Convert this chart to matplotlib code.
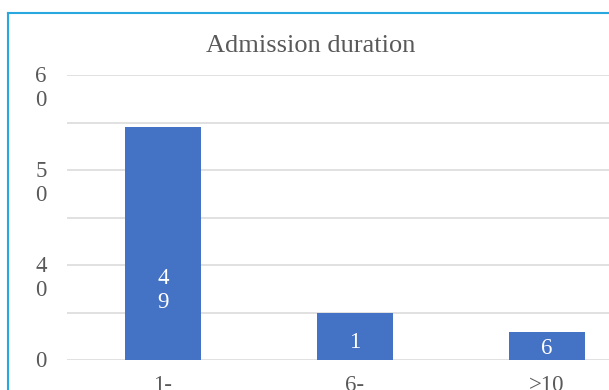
import matplotlib.pyplot as plt
from matplotlib.lines import Line2D
import matplotlib.transforms as mtransforms

categories = ["1-", "6-", ">10"]
values = [49, 10, 6]
bar_labels = ["4\n9", "1", "6"]
ytick_values = [0, 20, 40, 60]
ytick_labels = ["0", "4\n0", "5\n0", "6\n0"]

plt.rcParams['font.family'] = ['Liberation Serif', 'DejaVu Serif']

W, H = 609, 390
fig = plt.figure(figsize=(W / 100, H / 100), dpi=100)
fig.patch.set_facecolor('white')

# axes area runs off the right edge like the cropped original
left, right, bottom, top = 67, 643, 360, 75
ax = fig.add_axes([left / W, (H - bottom) / H, (right - left) / W, (bottom - top) / H])
ax.set_xlim(-0.5, 2.5)
ax.set_ylim(0, 60)

x = list(range(len(categories)))
ax.bar(x, values, width=0.4, color='#4472c4', zorder=3)

for v in range(0, 61, 10):
    ax.axhline(v, color='#d9d9d9', linewidth=1.1, zorder=1)

for s in ax.spines.values():
    s.set_visible(False)
ax.set_yticks([])
ax.set_xticks(x)
ax.set_xticklabels(categories, fontsize=16.5, color='#595959')
ax.tick_params(axis='x', length=0, pad=11)

trans = mtransforms.blended_transform_factory(ax.transAxes, ax.transData)
shift = mtransforms.ScaledTranslation(0, 9 / 100, fig.dpi_scale_trans)
for val, lab in zip(ytick_values, ytick_labels):
    # first line sits on the gridline, second line hangs below
    ax.text(-0.045, val, lab, transform=trans + shift, ha='center', va='top',
            fontsize=16.5, color='#595959', linespacing=1.2,
            clip_on=False)

label_frac = [0.3, 0.36, 0.4]
for xi, v, lab, f in zip(x, values, bar_labels, label_frac):
    ax.text(xi, v * f, lab, ha='center', va='center', color='white',
            fontsize=16.5, linespacing=1.2, zorder=4)

fig.text(311 / W, 1 - 46 / H, "Admission duration", ha='center', va='center',
         fontsize=19, color='#595959')

# chart border (left and top edges visible)
bc = '#29a8e0'
fig.add_artist(Line2D([8 / W, 8 / W], [0, 1 - 13 / H], color=bc, linewidth=1.5,
                      transform=fig.transFigure))
fig.add_artist(Line2D([8 / W, 1], [1 - 13 / H, 1 - 13 / H], color=bc, linewidth=1.5,
                      transform=fig.transFigure))

fig.savefig('out.png', dpi=100)
